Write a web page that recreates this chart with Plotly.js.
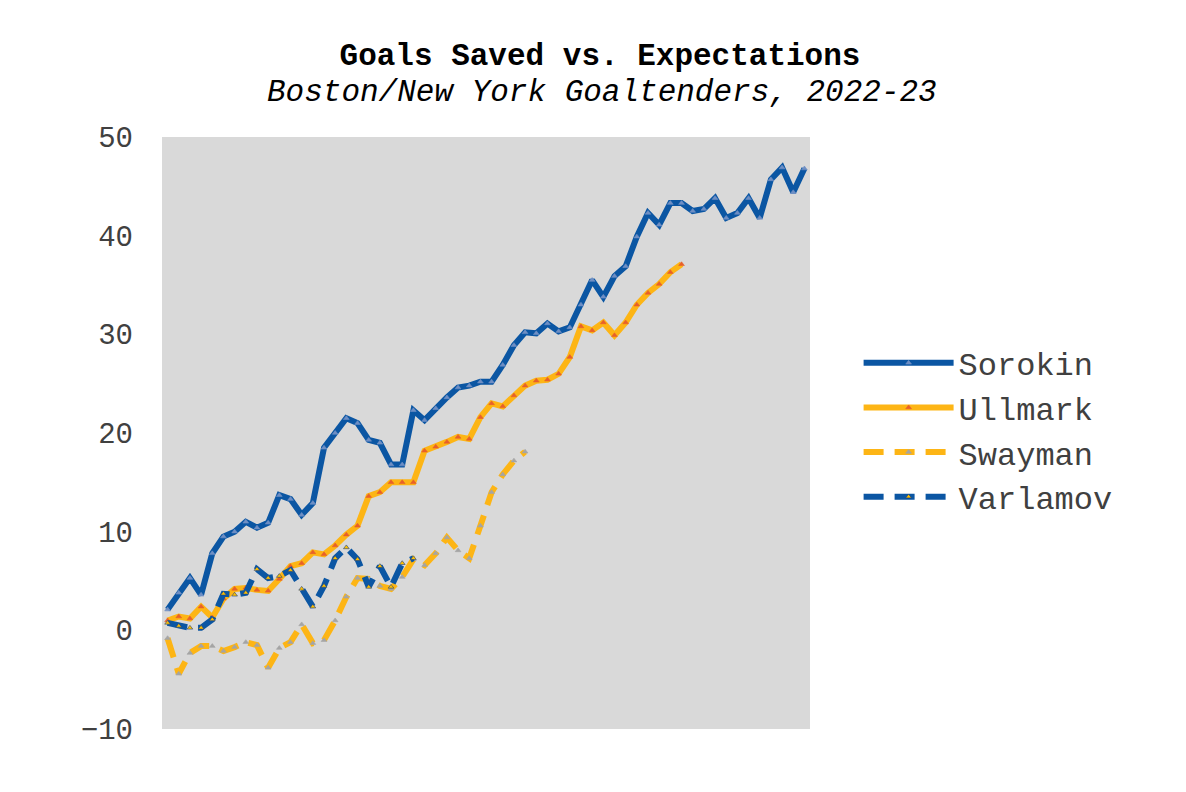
<!DOCTYPE html>
<html>
<head>
<meta charset="utf-8">
<script src="https://cdn.plot.ly/plotly-3.0.1.min.js"></script>
<style>
  html, body { margin: 0; padding: 0; background: #ffffff; }
  #chart_container { width: 1186px; height: 792px; }
</style>
</head>
<body>
<div id="chart_container"></div>
<script>
// goals saved above expected, game by game
var sorokin = [2.1, 3.8, 5.3, 3.6, 7.8, 9.5, 10.0, 11.0, 10.4, 10.9,
	13.7, 13.3, 11.7, 12.9, 18.5, 20.0, 21.5, 21.0, 19.3, 19.0,
	16.8, 16.8, 22.3, 21.3, 22.5, 23.6, 24.6, 24.8, 25.2, 25.2,
	26.9, 28.9, 30.2, 30.1, 31.1, 30.3, 30.7, 33.0, 35.5, 33.8,
	35.9, 36.9, 39.9, 42.3, 41.1, 43.3, 43.3, 42.5, 42.7, 43.8,
	41.8, 42.3, 43.8, 41.8, 45.7, 46.9, 44.4, 46.8];
var ullmark = [1.0, 1.4, 1.2, 2.4, 1.3, 3.2, 4.2, 4.3, 4.1, 4.0,
	5.2, 6.5, 6.8, 7.9, 7.7, 8.6, 9.7, 10.6, 13.6, 14.0,
	15.0, 15.0, 15.0, 18.2, 18.6, 19.1, 19.6, 19.4, 21.6, 23.0,
	22.7, 23.8, 24.8, 25.3, 25.4, 26.0, 27.7, 30.8, 30.4, 31.2,
	29.9, 31.2, 33.0, 34.2, 35.1, 36.3, 37.1];
var swayman = [-0.8, -4.4, -2.3, -1.6, -1.6, -2.1, -1.7, -1.2, -1.5, -3.8,
	-1.8, -1.2, 0.6, -1.3, -1.0, 1.0, 3.4, 5.3, 5.2, 4.5,
	4.2, 5.4, 7.2, 6.6, 7.8, 9.4, 8.1, 7.3, 10.6, 14.0,
	15.8, 17.2, 18.1];
var varlamov = [0.75, 0.45, 0.25, 0.25, 1.1, 3.7, 3.6, 3.8, 6.2, 5.3,
	5.5, 6.1, 4.2, 2.4, 4.5, 7.3, 8.4, 7.2, 4.4, 6.5,
	4.4, 6.8, 7.3];

var BLUE = '#0b56a3';
var GOLD = '#fdb515';
var FONT = '"Courier New", "Liberation Mono", monospace';

var games = function(values) {
	return values.map(function(v, i) { return i + 1; });
};

var make_trace = function(name, values, color, dash, markerColor, markerLine) {
	return {
		x: games(values),
		y: values,
		name: name,
		type: 'scatter',
		mode: 'lines+markers',
		line: { color: color, width: 6, dash: dash },
		marker: {
			symbol: 'triangle-up',
			size: 5,
			color: markerColor,
			line: { color: markerLine, width: 0.6 }
		}
	};
};

var plotly_data = [
	make_trace('Sorokin', sorokin, BLUE, 'solid', '#6f8fc4', '#6f8fc4'),
	make_trace('Ullmark', ullmark, GOLD, 'solid', '#e8602a', '#e8602a'),
	make_trace('Swayman', swayman, GOLD, '20px,11px', '#a5a5a5', '#a5a5a5'),
	make_trace('Varlamov', varlamov, BLUE, '20px,11px', '#ffc000', '#1f3f7a')
];

var layout = {
	width: 1186,
	height: 792,
	paper_bgcolor: '#ffffff',
	plot_bgcolor: '#d9d9d9',
	margin: { l: 162, r: 376, t: 137, b: 63 },
	font: { family: FONT, color: '#404040' },
	title: {
		text: '<b>Goals Saved vs. Expectations</b>',
		font: { family: FONT, size: 31, color: '#000000' },
		x: 600 / 1186,
		xanchor: 'center',
		xref: 'container',
		y: 1 - 54 / 792,
		yanchor: 'middle',
		yref: 'container'
	},
	annotations: [{
		text: '<i>Boston/New York Goaltenders, 2022-23</i>',
		xref: 'paper', yref: 'paper',
		x: (602 - 162) / 648, y: 1 + (137 - 93) / 592,
		xanchor: 'center', yanchor: 'middle',
		showarrow: false,
		font: { family: FONT, size: 31, color: '#000000' }
	}],
	xaxis: {
		range: [0.5, 58.5],
		showgrid: false,
		zeroline: false,
		showticklabels: false,
		ticks: '',
		showline: false,
		fixedrange: true
	},
	yaxis: {
		range: [-10, 50],
		dtick: 10,
		showgrid: false,
		zeroline: false,
		ticks: '',
		showline: false,
		ticklabelstandoff: 28,
		tickfont: { family: FONT, size: 29, color: '#404040' }
	},
	showlegend: true,
	legend: {
		x: 1.075,
		xanchor: 'left',
		y: 0.505,
		yanchor: 'middle',
		bgcolor: 'rgba(0,0,0,0)',
		itemwidth: 90,
		tracegroupgap: 0,
		font: { family: FONT, size: 32, color: '#404040' }
	}
};

Plotly.newPlot('chart_container', plotly_data, layout, { displayModeBar: false, staticPlot: true });
</script>
</body>
</html>
